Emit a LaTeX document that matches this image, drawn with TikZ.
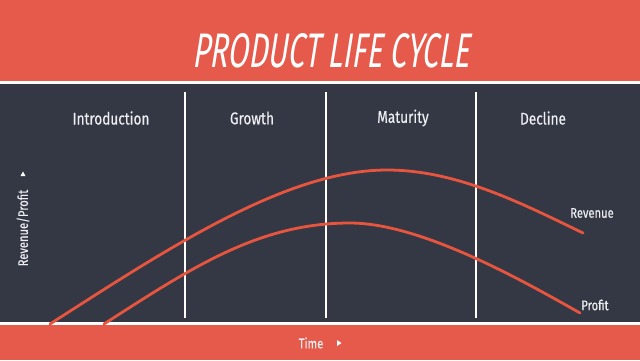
\documentclass[tikz,border=0pt]{standalone}
\usepackage{fontspec}
\setmainfont{Fira Sans}[FakeStretch=0.8,FakeBold=0.4]
\newfontfamily\titlefont{Fira Sans}[FakeStretch=0.62,FakeSlant=0.16]
\definecolor{bandred}{HTML}{E65A4B}
\definecolor{darkbg}{HTML}{343844}
\definecolor{curvered}{HTML}{E8553F}
\definecolor{labelgray}{HTML}{ECEEF2}
\tikzset{
  stage/.style={text=labelgray,font=\fontsize{17}{20}\selectfont,inner sep=0pt},
  small/.style={text=labelgray,font=\fontsize{14}{16}\selectfont,inner sep=0pt},
  divider/.style={draw=white,line width=1.3pt},
  curve/.style={draw=curvered,line width=2.8pt,line cap=round},
  tip/.style={fill=white,draw=none}
}
\begin{document}
\begin{tikzpicture}[x=1pt,y=-1pt]
\useasboundingbox (0,0) rectangle (640,360);
% bands
\fill[bandred] (0,0) rectangle (640,81);
\fill[white] (0,81) rectangle (640,84);
\fill[darkbg] (0,84) rectangle (640,322);
\fill[white] (0,322) rectangle (640,325);
\fill[bandred] (0,325) rectangle (640,360);
% title
\node[text=white,inner sep=0pt,anchor=base] (title) at (331,67)
  {\resizebox{277pt}{34pt}{\titlefont PRODUCT LIFE CYCLE}};
% dividers
\coordinate (d1t) at (185,92); \coordinate (d1b) at (185,318);
\coordinate (d2t) at (326,92); \coordinate (d2b) at (326,318);
\coordinate (d3t) at (476,92); \coordinate (d3b) at (476,318);
\draw[divider] (d1t) -- (d1b);
\draw[divider] (d2t) -- (d2b);
\draw[divider] (d3t) -- (d3b);
% stage labels
\node[stage] (intro) at (111,118) {Introduction};
\node[stage] (growth) at (252,118) {Growth};
\node[stage] (maturity) at (403,118) {Maturity};
\node[stage] (decline) at (543,118) {Decline};
% curves
\coordinate (r0) at (50,324); \coordinate (rp) at (387,170); \coordinate (r1) at (583,233);
\coordinate (p0) at (104,324); \coordinate (pp) at (350,223); \coordinate (p1) at (580,313);
\draw[curve] (r0) .. controls (170,247) and (287,170) .. (rp)
  .. controls (457,170) and (523,204) .. (r1);
\draw[curve] (p0) .. controls (194,266) and (260,223) .. (pp)
  .. controls (420,223) and (520,279) .. (p1);
% curve labels
\node[small] (rev) at (592,213) {Revenue};
\node[small] (prof) at (595,305) {Profit};
% axis labels
\node[small,rotate=90] (yaxis) at (23,228) {Revenue/Profit};
\fill[tip] (20.5,176) -- (25.5,176) -- (23,171.5) -- cycle;
\node[small] (xaxis) at (311,343) {Time};
\fill[tip] (337,340) -- (337,346) -- (341.5,343) -- cycle;
\end{tikzpicture}
\end{document}
